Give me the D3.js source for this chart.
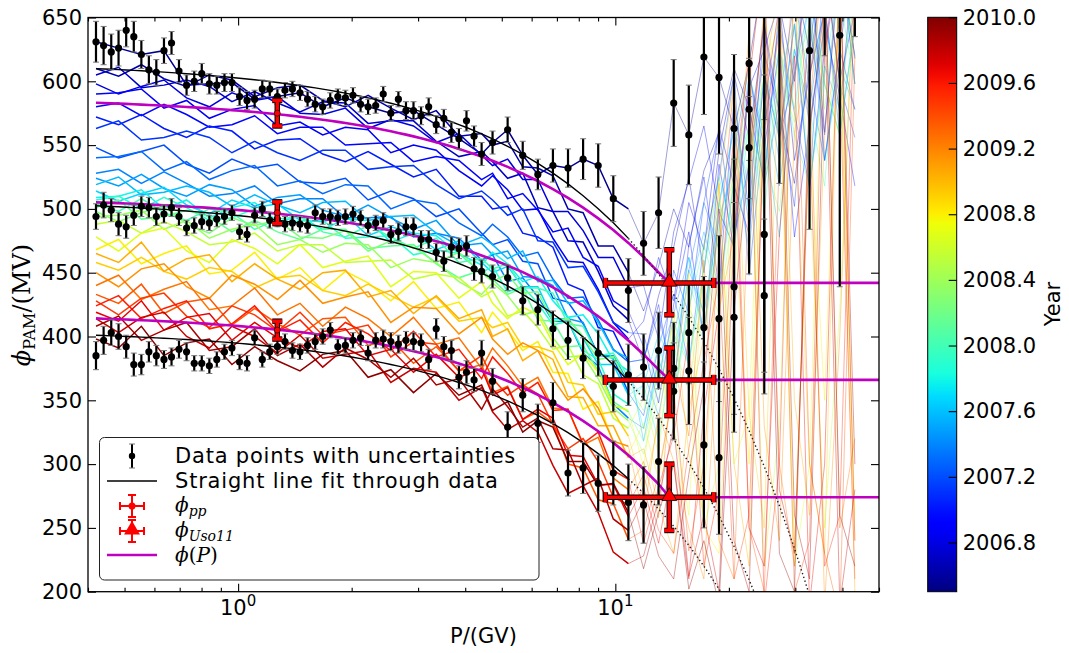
<!DOCTYPE html>
<html lang="en">
<head>
<meta charset="UTF-8">
<title>Modulation potential vs rigidity</title>
<style>
  body { margin: 0; background: #fff; }
  svg text { font-family: "DejaVu Sans", sans-serif; fill: #000; }
</style>
</head>
<body>
<div id="chart"></div>
<script src="https://d3js.org/d3.v7.min.js"></script>
<script>
// rigidity bins (GV): fine bins up to 4.4 GV, then coarse bins
const rigidity = [0.420,0.440,0.461,0.482,0.505,0.529,0.554,0.580,0.607,0.636,0.666,0.697,0.730,0.765,0.801,0.839,0.878,0.920,0.963,1.009,
  1.056,1.106,1.159,1.213,1.271,1.331,1.393,1.459,1.528,1.601,1.676,1.755,1.838,1.925,2.016,2.112,2.211,2.316,2.425,2.540,
  2.660,2.786,2.917,3.055,3.200,3.351,3.510,3.676,3.849,4.031,4.222,4.421,
  4.726,5.182,5.682,6.231,6.832,7.491,8.214,9.007,9.877,10.83,11.88,13.02,14.28,15.66,17.17,18.83,20.64,22.63,24.82,27.22,
  29.84,32.72,35.88,39.35,43.15,47.31];

// black data points: three epochs (null = no point)
const topPhi = [631,628,623,626,640,635,621,609,607,624,630,608,597,600,606,598,597,599,599,588,585,586,594,594,588,593,594,591,586,582,
  580,585,588,587,589,582,580,581,590,575,586,577,577,573,580,566,571,560,555,569,557,543,
  552,562,542,527,534,532,539,534,508,436,473,497,583,558,619,603,563,614,690,740,null,624,720,636,700,null];
const topErr = [16,15,14,14,13,12,11,11,10,10,9,9,8,8,8,8,7,7,7,7,7,7,7,6,6,6,6,6,6,6,6,6,6,6,6,6,6,6,6,6,6,7,7,7,7,7,7,8,8,8,8,9,
  9,10,11,12,13,15,16,17,18,25,25,28,34,39,45,60,58,165,120,220,0,140,100,197,65,0];
const midPhi = [494,503,499,488,486,495,502,501,494,496,501,494,485,487,490,489,492,494,497,482,480,495,500,491,492,488,489,488,487,497,
  494,494,493,494,496,493,487,489,491,480,482,486,486,476,476,466,459,470,469,471,453,451,
  447,446,428,421,406,397,383,387,361,370,376,389,375,403,407,414,439,578,480,null,null,null,null,null,null,null];
const midErr = [10,10,9,9,9,8,8,8,7,7,7,7,6,6,6,6,6,6,6,6,6,6,6,6,6,6,6,6,6,6,6,6,6,6,6,6,6,6,6,7,7,7,7,7,7,7,8,8,8,8,9,9,
  9,10,11,12,14,15,16,18,20,24,26,30,36,40,40,65,100,40,125,0,0,0,0,0,0,0];
const lowPhi = [385,397,403,400,392,378,378,388,385,382,384,390,388,379,379,377,382,388,391,380,379,399,382,388,392,396,389,388,393,396,
  400,405,392,393,397,399,387,397,398,396,394,397,396,395,382,406,392,389,368,372,366,387,
  365,329,354,332,348,293,297,285,293,270,268,302,357,373,315,305,415,548,432,null,null,null,null,null,null,null];
const lowErr = [11,11,10,10,9,9,8,8,8,7,7,7,7,6,6,6,6,6,6,6,6,6,6,6,6,6,6,6,6,6,6,6,6,6,6,6,6,6,7,7,7,7,7,7,8,8,8,8,9,9,9,10,
  10,12,13,15,16,18,20,22,25,30,30,34,38,42,65,60,90,40,60,0,0,0,0,0,0,0];

// straight line fits (phi = a - b*P) and phi(P)
const fitIntercept = [615.3, 508, 405.5];
const fitSlope = [12.78, 13.2, 10.8];
const phiIntercept = [587.6, 509.5, 418.5];
const phiSlope = [10.55, 10.4, 10.3];

// phi_pp and phi_Uso11 markers
const ppP = 1.27;
const ppVal = [575, 497, 405];
const ppErr = [10, 8.5, 7];
const usoP = 13.9, usoPLow = 9.41, usoPHigh = 18.23;
const usoVal = [442, 366, 274];
const usoErrDown = [25, 28, 26];
const usoErrUp = [26, 25, 26];

// monthly curves: 28 values on the thick grid (0.42-10.8 GV), then 15 thin values (11.9-43 GV)
const lineYears = [2006.55,2006.63,2006.71,2006.79,2006.87,2006.95,2007.03,2007.12,2007.21,2007.30,2007.39,2007.48,2007.58,2007.68,
  2007.78,2007.90,2008.02,2008.14,2008.26,2008.38,2008.55,2008.68,2008.80,2008.92,2009.04,2009.15,2009.26,2009.37,2009.48,2009.58,
  2009.68,2009.78,2009.87,2009.96];
const lineValues = [
  [631,626,621,624,597,598,599,586,588,591,580,587,580,575,577,566,555,543,552,562,542,527,534,532,539,534,508,500, 473,497,583,558,619,603,563,614,690,740,680,624,720,636,700],
  [610,604,613,602,596,605,601,588,595,597,585,580,589,579,570,577,557,559,550,553,533,532,526,500,497,471,471,450, 420,455,500,470,530,560,610,580,520,660,600,700,560,690,620],
  [605,611,595,597,601,596,584,592,583,576,584,583,567,569,569,553,541,545,537,524,528,501,498,475,474,451,424,413, 380,432,470,525,450,545,605,555,645,575,520,615,690,600,655],
  [598,590,596,601,587,580,591,585,588,575,574,579,563,570,565,552,559,542,534,539,523,523,498,498,483,462,462,438, 440,398,482,522,565,498,470,595,625,662,538,605,655,575,705],
  [590,591,594,579,585,571,578,581,565,568,558,564,562,544,550,546,530,518,526,515,499,500,477,459,458,437,411,398, 412,462,428,505,468,565,518,480,605,555,645,515,625,705,598],
  [580,583,573,582,574,564,566,573,559,564,564,550,551,552,537,541,538,523,528,508,512,499,482,485,462,455,428,420, 392,348,425,482,398,535,468,605,548,625,478,565,645,588,518],
  [572,566,574,563,556,565,561,547,554,555,543,537,545,535,525,531,510,510,500,502,481,478,470,441,436,407,404,380, 382,425,358,472,525,438,585,498,645,556,605,705,538,625,578],
  [563,569,554,556,561,556,544,553,544,538,546,546,531,533,534,519,508,514,507,495,500,475,474,454,455,435,411,403, 402,358,452,418,505,562,478,535,622,576,502,645,558,705,618],
  [548,540,545,550,535,528,539,532,535,521,520,524,507,514,508,494,500,481,472,476,459,457,430,427,410,386,383,356, 338,392,433,378,472,525,605,448,565,645,575,518,695,598,556],
  [540,541,545,530,537,523,530,534,518,522,512,519,518,500,507,504,489,479,488,478,463,466,445,430,431,413,390,380, 382,418,362,452,505,468,545,612,518,585,665,598,538,625,705],
  [528,531,520,529,520,510,512,518,504,508,508,493,493,494,478,481,477,460,464,443,446,431,412,412,387,377,347,336, 328,382,418,462,398,505,562,488,605,538,625,578,662,558,645],
  [524,518,527,516,510,519,515,502,509,511,499,494,503,493,484,491,471,473,464,467,447,446,440,414,411,385,385,364, 372,338,402,452,418,492,535,468,585,518,605,662,538,612,578],
  [519,525,511,513,518,513,502,511,503,497,505,506,491,494,495,481,471,478,472,461,467,443,444,426,428,411,389,383, 318,382,348,432,482,438,522,605,558,478,625,568,642,705,598],
  [514,506,512,517,503,496,507,501,504,491,490,495,479,486,481,468,475,458,450,455,439,439,414,414,399,378,378,354, 362,402,378,462,418,502,565,518,605,558,645,518,612,578,685],
  [509,510,515,500,507,493,501,505,490,494,484,492,491,474,481,479,465,456,466,457,443,447,428,415,417,402,381,373, 328,372,412,378,452,525,478,565,528,625,578,665,598,558,645],
  [507,510,500,509,501,491,493,500,486,491,491,477,478,479,464,468,465,450,455,435,439,426,409,412,389,382,355,347, 362,318,392,442,408,485,545,498,585,625,558,518,605,685,638],
  [504,498,508,497,491,500,497,484,492,494,482,478,487,478,469,477,458,461,453,457,438,438,434,410,408,385,387,368, 352,392,358,422,472,428,525,565,498,605,645,578,518,665,598],
  [501,507,492,494,499,494,482,491,482,476,484,484,469,471,472,457,446,452,445,433,438,413,412,392,393,373,349,341, 318,362,402,378,455,505,468,545,605,558,625,685,598,558,645],
  [498,490,497,502,488,481,493,487,491,478,477,483,467,475,470,458,466,450,443,449,434,435,412,414,400,382,384,362, 342,382,348,422,398,485,525,585,538,498,605,645,578,685,618],
  [494,495,499,484,491,477,484,488,472,476,466,473,472,454,461,458,443,433,442,432,417,420,399,384,385,367,344,334, 308,352,392,358,445,418,505,565,518,605,568,645,598,558,705],
  [488,491,481,490,482,472,474,481,467,472,472,458,459,460,445,449,446,431,436,416,420,407,390,393,370,363,336,328, 352,308,420,390,250,300,560,610,220,330,680,520,250,420,700],
  [478,467,481,485,467,458,476,469,457,472,454,459,463,439,451,450,430,443,426,414,423,417,395,378,387,372,346,342, 298,380,330,260,470,520,300,340,650,600,220,300,700,640,260],
  [468,476,457,465,471,449,452,466,445,454,436,451,442,428,443,422,427,403,419,405,389,396,372,371,343,349,317,308, 332,288,362,450,250,230,500,300,600,650,230,560,350,690,240],
  [458,452,462,451,445,454,451,438,446,448,436,432,441,432,423,431,412,415,407,411,392,392,388,364,362,339,341,322, 278,332,420,308,260,520,600,340,250,640,580,300,230,700,650],
  [465,458,474,451,461,464,443,457,445,437,450,452,431,436,418,432,414,421,400,406,381,389,382,353,352,330,330,305, 312,268,230,342,400,520,300,220,600,680,350,260,560,640,200],
  [450,439,453,457,439,430,448,441,429,444,426,431,435,411,423,422,402,415,398,386,395,389,367,350,359,344,318,314, 258,340,302,250,210,420,480,640,330,240,560,620,190,400,700],
  [440,448,429,437,443,421,424,438,417,426,408,423,414,400,415,394,399,375,391,377,361,368,344,343,315,321,289,280, 302,258,380,322,460,240,210,520,660,300,220,580,700,250,320],
  [433,426,441,418,427,430,409,422,410,401,414,415,393,398,379,392,373,378,356,361,335,341,332,300,297,272,269,241, 248,292,360,232,300,470,600,250,200,540,690,300,230,180,620],
  [428,417,430,434,416,407,424,417,404,419,401,405,409,384,396,394,373,385,367,354,362,355,331,312,320,302,274,268, 292,248,230,312,380,445,210,260,560,640,200,240,690,600,210],
  [424,432,414,422,428,406,410,424,404,413,395,411,402,389,404,384,390,367,384,371,356,364,342,343,316,325,295,288, 238,282,322,400,220,280,520,620,190,300,700,560,220,260,680],
  [419,412,428,405,415,418,397,411,399,391,404,406,385,390,372,386,368,375,354,360,335,343,336,307,306,284,284,259, 282,238,302,210,342,420,560,250,220,480,620,190,300,700,240],
  [414,403,415,419,400,391,408,400,387,401,383,386,389,364,375,372,350,360,341,327,334,325,299,277,283,262,231,222, 228,272,330,212,260,200,480,600,700,280,230,560,660,190,280],
  [408,416,397,405,411,389,392,406,385,394,376,391,382,368,383,362,367,343,359,345,329,336,312,311,283,289,257,248, 272,228,210,292,360,500,240,200,580,660,260,210,620,700,300],
  [398,391,408,385,395,398,378,392,381,373,386,389,368,374,356,371,354,362,342,349,325,334,329,302,302,283,285,262, 218,262,300,202,240,190,420,540,650,230,200,600,700,260,220]
];

const yTicks = [200,250,300,350,400,450,500,550,600,650];
const xMajor = [1, 10];
const xMinor = [0.4,0.5,0.6,0.7,0.8,0.9,2,3,4,5,6,7,8,9,20,30,40,50];
const yearTicks = [2006.8,2007.2,2007.6,2008.0,2008.4,2008.8,2009.2,2009.6,2010.0];

const box = {left: 88, right: 879, top: 17.5, bottom: 591.7};
const cbar = {left: 927.7, right: 956.7, top: 17.3, bottom: 591.7};

const x = d3.scaleLog().domain([0.4, 50]).range([box.left, box.right]);
const y = d3.scaleLinear().domain([200, 650]).range([box.bottom, box.top]);
const cy = d3.scaleLinear().domain([2006.5, 2010]).range([cbar.bottom, cbar.top]);

// matplotlib "jet"
const jetR = d3.scaleLinear().domain([0, 0.35, 0.66, 0.89, 1]).range([0, 0, 1, 1, 0.5]).clamp(true);
const jetG = d3.scaleLinear().domain([0, 0.125, 0.375, 0.64, 0.91, 1]).range([0, 0, 1, 1, 0, 0]).clamp(true);
const jetB = d3.scaleLinear().domain([0, 0.11, 0.34, 0.65, 1]).range([0.5, 1, 1, 0, 0]).clamp(true);
const jet = t => d3.rgb(255 * jetR(t), 255 * jetG(t), 255 * jetB(t)).formatHex();
const yearColor = yr => jet((yr - 2006.5) / 3.5);

const svg = d3.select("#chart").append("svg")
    .attr("width", 1069).attr("height", 653);

const defs = svg.append("defs");
defs.append("clipPath").attr("id", "clip")
    .append("rect")
    .attr("x", box.left).attr("y", box.top)
    .attr("width", box.right - box.left).attr("height", box.bottom - box.top);

const grad = defs.append("linearGradient").attr("id", "jetgrad")
    .attr("x1", 0).attr("y1", 1).attr("x2", 0).attr("y2", 0);
d3.range(0, 1.0001, 0.02).forEach(t => {
    grad.append("stop").attr("offset", t).attr("stop-color", jet(t));
});

const plot = svg.append("g").attr("clip-path", "url(#clip)");
const line = d3.line().x(d => x(d[0])).y(d => y(d[1]));

// grid positions used by the monthly curves
const thickP = rigidity.filter((p, i) => i < 52 ? i % 3 === 0 : i <= 61);
const thinP = rigidity.slice(61, 77);

// thin part of the monthly curves
lineValues.forEach((vals, k) => {
    const pts = thinP.map((p, i) => [p, vals[27 + i]]);
    plot.append("path").attr("d", line(pts))
        .attr("fill", "none")
        .attr("stroke", yearColor(lineYears[k]))
        .attr("stroke-width", 1)
        .attr("stroke-opacity", 0.38);
});

// thick part
lineValues.forEach((vals, k) => {
    const pts = thickP.map((p, i) => [p, vals[i]]);
    plot.append("path").attr("d", line(pts))
        .attr("fill", "none")
        .attr("stroke", yearColor(lineYears[k]))
        .attr("stroke-width", 1.5);
});

// phi(P) in magenta, flat beyond the Uso11 rigidity
phiIntercept.forEach((a, k) => {
    const pts = rigidity.filter(p => p < usoP).map(p => [p, a - phiSlope[k] * p]);
    pts.push([usoP, usoVal[k]], [50, usoVal[k]]);
    plot.append("path").attr("d", line(pts))
        .attr("fill", "none").attr("stroke", "#bf00bf").attr("stroke-width", 2.6);
});

// straight line fits, dotted beyond the fitted range
fitIntercept.forEach((a, k) => {
    const solid = rigidity.slice(0, 62).map(p => [p, a - fitSlope[k] * p]);
    const dotted = rigidity.slice(61).map(p => [p, a - fitSlope[k] * p]);
    plot.append("path").attr("d", line(solid))
        .attr("fill", "none").attr("stroke", "#000").attr("stroke-width", 1.4);
    plot.append("path").attr("d", line(dotted))
        .attr("fill", "none").attr("stroke", "#222").attr("stroke-width", 1.4)
        .attr("stroke-dasharray", "1.4,2.6");
});

// data points with uncertainties
const series = [
    {phi: topPhi, err: topErr},
    {phi: midPhi, err: midErr},
    {phi: lowPhi, err: lowErr}
];
series.forEach(s => {
    const g = plot.append("g");
    rigidity.forEach((p, i) => {
        const v = s.phi[i], e = s.err[i];
        if (v == null) return;
        const cx = x(p);
        g.append("line").attr("x1", cx).attr("x2", cx)
            .attr("y1", y(v - e)).attr("y2", y(v + e))
            .attr("stroke", "#000").attr("stroke-width", 2.2);
        [v - e, v + e].forEach(c => {
            g.append("line").attr("x1", cx - 3).attr("x2", cx + 3)
                .attr("y1", y(c)).attr("y2", y(c))
                .attr("stroke", "#777").attr("stroke-width", 1);
        });
        g.append("circle").attr("cx", cx).attr("cy", y(v)).attr("r", 3.6).attr("fill", "#000");
    });
});

// outlined red error bars: black underlay, red on top
function redBars(g, segs, w) {
    segs.forEach(s => g.append("line").attr("x1", s[0]).attr("y1", s[1]).attr("x2", s[2]).attr("y2", s[3])
        .attr("stroke", "#000").attr("stroke-width", w + 2));
    segs.forEach(s => g.append("line").attr("x1", s[0]).attr("y1", s[1]).attr("x2", s[2]).attr("y2", s[3])
        .attr("stroke", "#ff0000").attr("stroke-width", w));
}

// phi_pp markers
const markers = svg.append("g");
ppVal.forEach((v, k) => {
    const cx = x(ppP), yt = y(v + ppErr[k]), yb = y(v - ppErr[k]);
    redBars(markers, [
        [cx, yt, cx, yb],
        [cx - 5, yt, cx + 5, yt],
        [cx - 5, yb, cx + 5, yb]
    ], 3.5);
    markers.append("circle").attr("cx", cx).attr("cy", y(v)).attr("r", 3)
        .attr("fill", "#ff0000").attr("stroke", "#000").attr("stroke-width", 0.6);
});

// phi_Uso11 markers
usoVal.forEach((v, k) => {
    const cx = x(usoP), cyv = y(v);
    const xl = x(usoPLow), xr = x(usoPHigh);
    const yt = y(v + usoErrUp[k]), yb = y(v - usoErrDown[k]);
    redBars(markers, [
        [xl, cyv, xr, cyv],
        [cx, yt, cx, yb],
        [xl, cyv - 5, xl, cyv + 5],
        [xr, cyv - 5, xr, cyv + 5],
        [cx - 5, yt, cx + 5, yt],
        [cx - 5, yb, cx + 5, yb]
    ], 3.5);
    markers.append("path")
        .attr("d", d3.symbol().type(d3.symbolTriangle).size(95)())
        .attr("transform", `translate(${cx},${cyv - 1})`)
        .attr("fill", "#ff0000").attr("stroke", "#000").attr("stroke-width", 0.8);
});

// frame and ticks
svg.append("rect")
    .attr("x", box.left).attr("y", box.top)
    .attr("width", box.right - box.left).attr("height", box.bottom - box.top)
    .attr("fill", "none").attr("stroke", "#000").attr("stroke-width", 1.3);

function tickAxis(axis, tx, ty) {
    const g = svg.append("g").attr("transform", `translate(${tx},${ty})`).call(axis);
    g.select(".domain").remove();
    g.selectAll(".tick line").attr("stroke", "#000").attr("stroke-width", 1.1);
    return g;
}
tickAxis(d3.axisBottom(x).tickValues(xMajor).tickSize(-8).tickFormat(""), 0, box.bottom);
tickAxis(d3.axisBottom(x).tickValues(xMinor).tickSize(-4).tickFormat(""), 0, box.bottom);
tickAxis(d3.axisTop(x).tickValues(xMajor).tickSize(-8).tickFormat(""), 0, box.top);
tickAxis(d3.axisTop(x).tickValues(xMinor).tickSize(-4).tickFormat(""), 0, box.top);
const yAxisG = tickAxis(d3.axisLeft(y).tickValues(yTicks).tickSize(-8).tickPadding(6).tickFormat(d3.format("d")), box.left, 0);
yAxisG.selectAll("text").attr("font-size", 21).attr("font-family", "DejaVu Sans").attr("fill", "#000");
tickAxis(d3.axisRight(y).tickValues(yTicks).tickSize(-8).tickFormat(""), box.right, 0);

// x tick labels as powers of ten
xMajor.forEach(v => {
    const t = svg.append("text").attr("x", x(v)).attr("y", 615)
        .attr("text-anchor", "middle").attr("font-size", 21);
    t.append("tspan").text("10");
    t.append("tspan").attr("font-size", 15).attr("dy", -9).text(Math.round(Math.log10(v)));
});

// axis labels
svg.append("text").attr("x", (box.left + box.right) / 2).attr("y", 643)
    .attr("text-anchor", "middle").attr("font-size", 21).text("P/(GV)");

const serif = "'DejaVu Serif', serif";
const yl = svg.append("text")
    .attr("transform", "translate(30,305) rotate(-90)")
    .attr("text-anchor", "middle")
    .style("font-family", serif)
    .attr("font-size", 24).attr("fill", "#111");
yl.append("tspan").attr("font-style", "italic").text("\u03D5");
yl.append("tspan").attr("font-size", 16).attr("dy", 5).text("PAM");
yl.append("tspan").attr("dy", -5).text("/(MV)");

// colorbar
svg.append("rect")
    .attr("x", cbar.left).attr("y", cbar.top)
    .attr("width", cbar.right - cbar.left).attr("height", cbar.bottom - cbar.top)
    .attr("fill", "url(#jetgrad)").attr("stroke", "#000").attr("stroke-width", 1);
const cbAxis = tickAxis(d3.axisRight(cy).tickValues(yearTicks).tickSize(-8).tickPadding(6).tickFormat(d3.format(".1f")), cbar.right, 0);
cbAxis.selectAll("text").attr("font-size", 21).attr("font-family", "DejaVu Sans").attr("fill", "#000");
svg.append("text")
    .attr("transform", "translate(1060,304) rotate(-90)")
    .attr("text-anchor", "middle").attr("font-size", 21).text("Year");

// legend
const lg = svg.append("g");
lg.append("rect").attr("x", 99.5).attr("y", 437.5).attr("width", 439.5).attr("height", 142.5)
    .attr("rx", 5).attr("fill", "#fff").attr("stroke", "#222").attr("stroke-width", 1);
const hx = 132, tx = 175;
const rowY = [456, 481, 506, 531, 555];

lg.append("line").attr("x1", hx).attr("x2", hx).attr("y1", rowY[0] - 12).attr("y2", rowY[0] + 12)
    .attr("stroke", "#000").attr("stroke-width", 2);
[rowY[0] - 12, rowY[0] + 12].forEach(c => lg.append("line").attr("x1", hx - 3).attr("x2", hx + 3)
    .attr("y1", c).attr("y2", c).attr("stroke", "#777"));
lg.append("circle").attr("cx", hx).attr("cy", rowY[0]).attr("r", 3.2).attr("fill", "#000");

lg.append("line").attr("x1", 107).attr("x2", 157).attr("y1", rowY[1]).attr("y2", rowY[1])
    .attr("stroke", "#000").attr("stroke-width", 1.6);

[2, 3].forEach(r => {
    const cyl = rowY[r];
    [[hx - 12, cyl, hx + 12, cyl], [hx, cyl - 11, hx, cyl + 11],
     [hx - 12, cyl - 4, hx - 12, cyl + 4], [hx + 12, cyl - 4, hx + 12, cyl + 4],
     [hx - 4, cyl - 11, hx + 4, cyl - 11], [hx - 4, cyl + 11, hx + 4, cyl + 11]].forEach(s => {
        lg.append("line").attr("x1", s[0]).attr("y1", s[1]).attr("x2", s[2]).attr("y2", s[3])
            .attr("stroke", "#ff0000").attr("stroke-width", 2);
    });
});
lg.append("circle").attr("cx", hx).attr("cy", rowY[2]).attr("r", 3.5).attr("fill", "#ff0000");
lg.append("path").attr("d", d3.symbol().type(d3.symbolTriangle).size(110)())
    .attr("transform", `translate(${hx},${rowY[3] - 1})`).attr("fill", "#ff0000");

lg.append("line").attr("x1", 107).attr("x2", 157).attr("y1", rowY[4]).attr("y2", rowY[4])
    .attr("stroke", "#bf00bf").attr("stroke-width", 2.6);

lg.append("text").attr("x", tx).attr("y", 463).attr("font-size", 21).attr("letter-spacing", 0.8)
    .text("Data points with uncertainties");
lg.append("text").attr("x", tx).attr("y", 488).attr("font-size", 21).attr("letter-spacing", 0.8)
    .text("Straight line fit through data");

const t3 = lg.append("text").attr("x", tx).attr("y", rowY[2] + 6).style("font-family", serif).attr("font-size", 20);
t3.append("tspan").attr("font-style", "italic").text("\u03D5");
t3.append("tspan").attr("font-style", "italic").attr("font-size", 14).attr("dy", 4).text("pp");

const t4 = lg.append("text").attr("x", tx).attr("y", rowY[3] + 6).style("font-family", serif).attr("font-size", 20);
t4.append("tspan").attr("font-style", "italic").text("\u03D5");
t4.append("tspan").attr("font-style", "italic").attr("font-size", 14).attr("dy", 4).text("Uso11");

const t5 = lg.append("text").attr("x", tx).attr("y", rowY[4] + 7).style("font-family", serif).attr("font-size", 20);
t5.append("tspan").attr("font-style", "italic").text("\u03D5");
t5.append("tspan").text("(");
t5.append("tspan").attr("font-style", "italic").text("P");
t5.append("tspan").text(")");
</script>
</body>
</html>
